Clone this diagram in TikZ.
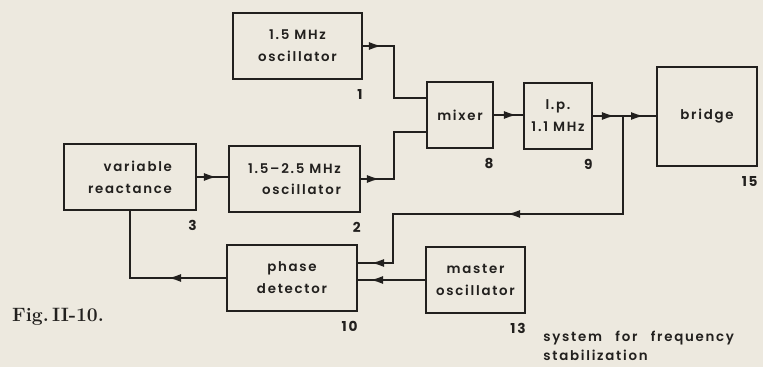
\documentclass[tikz,border=0pt]{standalone}
\usepackage{fontspec}
\setsansfont{Poppins}[LetterSpace=13,UprightFont={* SemiBold},BoldFont={* Bold}]
\usetikzlibrary{arrows.meta,positioning}
\definecolor{paper}{RGB}{237,233,223}
\definecolor{ink}{RGB}{34,32,30}
\newcommand\widewords{\spaceskip 1em\relax}

\begin{document}
\begin{tikzpicture}[>=Latex,
  block/.style={draw=ink,line width=1.1pt,align=center,inner sep=2pt,text=ink,
    font=\sffamily\fontsize{7.6}{12.4}\selectfont},
  num/.style={font=\sffamily\bfseries\fontsize{7.8}{9}\selectfont,text=ink,
    anchor=north east,inner sep=0pt},
  wire/.style={draw=ink,line width=1.1pt},
  arr/.style={wire,-{Latex[length=2.6mm,width=1.6mm]}}]
  \fill[paper] (0,0) rectangle (15.26,7.34);
  % blocks
  \node[block,minimum width=2.58cm,minimum height=1.32cm] (osc1) at (5.95,6.42) {1.5 MHz\\oscillator};
  \node[block,minimum width=2.62cm,minimum height=1.32cm,align=right] (osc2) at (5.89,3.76) {1.5–2.5 MHz\\oscillator};
  \node[block,minimum width=2.64cm,minimum height=1.32cm,align=right] (var) at (2.60,3.80) {variable\\reactance};
  \node[block,minimum width=1.32cm,minimum height=1.32cm] (mix) at (9.20,5.04) {mixer};
  \node[block,minimum width=1.36cm,minimum height=1.32cm] (lp) at (11.16,5.02) {l.p.\\1.1 MHz};
  \node[block,minimum width=2.00cm,minimum height=1.98cm] (bridge) at (14.14,5.01) {bridge};
  \node[block,minimum width=2.60cm,minimum height=1.32cm] (pd) at (5.84,1.78) {phase\\detector};
  \node[block,minimum width=1.98cm,minimum height=1.32cm] (master) at (9.51,1.74) {master\\oscillator};
  % block numbers
  \node[num] (n1) at ([yshift=-0.18cm]osc1.south east) {1};
  \node[num] (n2) at ([yshift=-0.18cm]osc2.south east) {2};
  \node[num] (n3) at ([yshift=-0.18cm]var.south east) {3};
  \node[num] (n8) at ([yshift=-0.18cm]mix.south east) {8};
  \node[num] (n9) at ([yshift=-0.18cm]lp.south east) {9};
  \node[num] (n15) at ([yshift=-0.18cm]bridge.south east) {15};
  \node[num] (n10) at ([yshift=-0.18cm]pd.south east) {10};
  \node[num] (n13) at ([yshift=-0.18cm]master.south east) {13};
  % wiring
  \coordinate (in1) at (7.88,5.38);
  \coordinate (in2) at (7.88,4.70);
  \coordinate (jn) at (12.46,5.02);
  \coordinate (fb) at (7.86,3.06);
  \coordinate (pdin) at (7.86,2.08);
  \draw[wire] (osc1.east) -| (in1) -- (mix.west |- in1);
  \draw[arr] (osc1.east) -- ++(0.38,0);
  \draw[wire] (osc2.east) -| (in2) -- (mix.west |- in2);
  \draw[arr] (osc2.east) -- ++(0.38,0);
  \draw[wire] (var.east) -- (var.east -| osc2.west);
  \draw[arr] (var.east) -- ++(0.40,0);
  \draw[wire] (mix.east) -- (mix.east -| lp.west);
  \draw[arr] (mix.east) -- ++(0.46,0);
  \draw[wire] (lp.east) -- (jn) -- (jn -| bridge.west);
  \draw[arr] (lp.east) -- ++(0.44,0);
  \draw[arr] (jn) -- ++(0.42,0);
  \draw[wire] (jn) |- (fb) -- (pdin) -- (pdin -| pd.east);
  \draw[arr] (jn |- fb) -- ++(-2.32,0);
  \draw[arr] (pdin) -- ++(-0.44,0);
  \draw[wire] (master.west) -- (master.west -| pd.east);
  \draw[arr] (master.west) -- ++(-1.10,0);
  \draw[wire] (pd.west) -| (var.south);
  \draw[arr] (pd.west) -- ++(-1.16,0);
  % captions
  \node[anchor=west,font=\bfseries\fontsize{11}{13}\selectfont,text=ink] (fig) at (0.12,1.0) {Fig.\,II-10.};
  \node[anchor=north west,align=left,inner sep=0pt,text=ink,
    font={\sffamily\fontsize{7.6}{10.5}\selectfont\widewords}] (cap) at (10.86,0.72) {system for frequency\\stabilization};
\end{tikzpicture}
\end{document}
